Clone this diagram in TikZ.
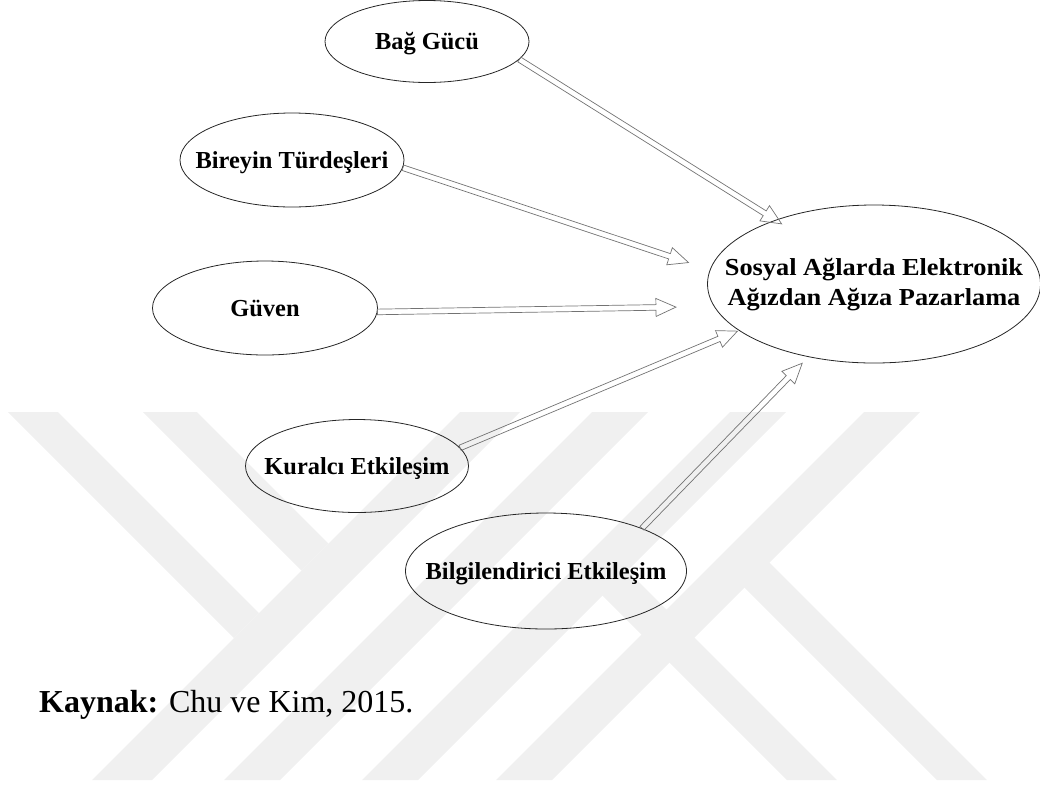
\documentclass[tikz,border=0pt]{standalone}
\usepackage{fontspec}
\setmainfont{Liberation Serif}
\usetikzlibrary{calc,shapes.geometric}

\begin{document}
\begin{tikzpicture}[x=1pt, y=-1pt,
    oval/.style={ellipse, draw=black!85, line width=0.8pt, inner sep=0pt, font=\fontsize{24.4}{30}\selectfont\bfseries},
    small/.style={oval, text height=20pt, text depth=4pt},
    stripe/.style={fill=black!6, draw=none},
    tipgap/.store in=\tipgap, tipgap=0pt,
    blockarrow/.style={draw=black!55, line width=0.7pt,
        to path={let \p1=(\tikztostart), \p2=(\tikztotarget), \p3=($(\p2)!\tipgap!(\p1)$),
            \n1={atan2(\y3-\y1,\x3-\x1)} in
            ($(\p1)+(\n1+90:2.8pt)$) -- ($(\p3)+(\n1+180:20pt)+(\n1+90:2.8pt)$)
            -- ($(\p3)+(\n1+180:20pt)+(\n1+90:9pt)$) -- (\p3)
            -- ($(\p3)+(\n1+180:20pt)+(\n1-90:9pt)$) -- ($(\p3)+(\n1+180:20pt)+(\n1-90:2.8pt)$)
            -- ($(\p1)+(\n1-90:2.8pt)$) -- cycle}}
]
\useasboundingbox (0,0) rectangle (1040,788);

% Watermark
\fill[stripe] (8,412) -- (58,412) -- (259,613) -- (234,638) -- cycle;
\fill[stripe] (143,412) -- (197,412) -- (328.5,543.5) -- (301.5,570.5) -- cycle;
\fill[stripe] (460,412) -- (520,412) -- (152,780) -- (92,780) -- cycle;
\fill[stripe] (592,412) -- (648,412) -- (280,780) -- (224,780) -- cycle;
\fill[stripe] (730,412) -- (786,412) -- (418,780) -- (362,780) -- cycle;
\fill[stripe] (574.5,567.5) -- (627.5,570.5) -- (837,780) -- (787,780) -- cycle;
\fill[stripe] (864,412) -- (920,412) -- (552,780) -- (496,780) -- cycle;
\fill[stripe] (716.5,559.5) -- (769.5,562.5) -- (987,780) -- (937,780) -- cycle;

% Factors
\node[small, minimum width=204pt, minimum height=82pt] (bag) at (427,41.5) {\makebox[0pt]{Bağ Gücü}};
\node[small, minimum width=224pt, minimum height=94pt] (bireyin) at (292,160) {\makebox[0pt]{Bireyin Türdeşleri}};
\node[small, minimum width=225pt, minimum height=94pt] (guven) at (265,308) {\makebox[0pt]{Güven}};
\node[small, minimum width=223pt, minimum height=93pt] (kural) at (357,466) {\makebox[0pt]{Kuralcı Etkileşim}};
\node[small, minimum width=281pt, minimum height=116pt] (bilgi) at (546,571) {\makebox[0pt]{Bilgilendirici Etkileşim}};

% Outcome
\node[oval, minimum width=333pt, minimum height=158pt] (hedef) at (874,284)
    {\makebox[0pt]{\addfontfeature{FakeStretch=1.08}\begin{tabular}{@{}c@{}}Sosyal Ağlarda Elektronik\\Ağızdan Ağıza Pazarlama\end{tabular}}};

% Source
\node[anchor=base west, inner sep=0pt, font=\fontsize{32}{38}\selectfont] (kaynak) at (39,712) {\textbf{Kaynak:} Chu ve Kim, 2015.};

% Connections
\draw[blockarrow, tipgap=-7.4pt] (bag.-11.7) to (hedef.147.7);
\draw[blockarrow, tipgap=22.5pt] (bireyin.-4) to (hedef.175.6);
\draw[blockarrow, tipgap=38pt] (guven.-2) to (hedef.188.5);
\draw[blockarrow, tipgap=1.5pt] (kural.10) to (hedef.199.7);
\draw[blockarrow, tipgap=8.7pt] (bilgi.24) to (hedef.228.3);

\end{tikzpicture}
\end{document}
